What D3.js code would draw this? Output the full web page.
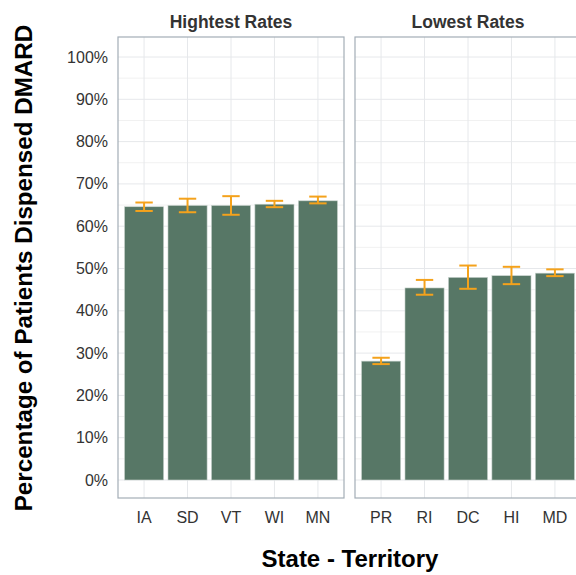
<!DOCTYPE html>
<html>
<head>
<meta charset="utf-8">
<script src="https://cdn.jsdelivr.net/npm/d3@7"></script>
<style>
  body { margin: 0; background: #fff; }
  text { font-family: "Liberation Sans", Arial, sans-serif; }
</style>
</head>
<body>
<svg id="svg" width="576" height="575"></svg>
<script>
const panels = ['Hightest Rates', 'Lowest Rates']
const highStates = ['IA', 'SD', 'VT', 'WI', 'MN']
const highRates = [64.6, 64.9, 64.9, 65.2, 66.0]
const highLow = [63.6, 63.3, 62.7, 64.5, 65.4]
const highHigh = [65.6, 66.5, 67.1, 66.0, 67.0]
const lowStates = ['PR', 'RI', 'DC', 'HI', 'MD']
const lowRates = [28.1, 45.4, 47.9, 48.3, 48.9]
const lowLow = [27.4, 43.8, 45.2, 46.3, 48.2]
const lowHigh = [28.9, 47.3, 50.7, 50.4, 49.8]
const yTicks = [0, 10, 20, 30, 40, 50, 60, 70, 80, 90, 100]

const makeRows = (states, rates, lo, hi) =>
  states.map((state, i) => ({ state, rate: rates[i], lo: lo[i], hi: hi[i] }))

const panelData = [
  makeRows(highStates, highRates, highLow, highHigh),
  makeRows(lowStates, lowRates, lowLow, lowHigh)
]

const panelTop = 37
const panelBottom = 498
const panelW = 226
const panelX = [118, 355]

const svg = d3.select('#svg')

const yScale = d3.scaleLinear()
  .domain([0, 100])
  .range([480, 57])

panelData.forEach((rows, p) => {
  const x0 = panelX[p]
  const unit = panelW / 5.2
  const xScale = d3.scaleLinear()
    .domain([0.4, 5.6])
    .range([x0, x0 + panelW])
  const xPos = (d, i) => xScale(i + 1)

  const g = svg.append('g')

  // minor grid
  g.selectAll('.minor')
    .data(d3.range(5, 100, 10))
    .join('line')
    .attr('x1', x0).attr('x2', x0 + panelW)
    .attr('y1', d => yScale(d)).attr('y2', d => yScale(d))
    .attr('stroke', '#f1f1f1')
  // major grid
  g.selectAll('.major')
    .data(yTicks)
    .join('line')
    .attr('x1', x0).attr('x2', x0 + panelW)
    .attr('y1', d => yScale(d)).attr('y2', d => yScale(d))
    .attr('stroke', '#e6e8eb')
  g.selectAll('.vgrid')
    .data(rows)
    .join('line')
    .attr('x1', xPos).attr('x2', xPos)
    .attr('y1', panelTop).attr('y2', panelBottom)
    .attr('stroke', '#e6e8eb')

  g.selectAll('.bar')
    .data(rows)
    .join('rect')
    .attr('x', (d, i) => xPos(d, i) - unit * 0.45)
    .attr('width', unit * 0.9)
    .attr('y', d => yScale(d.rate))
    .attr('height', d => yScale(0) - yScale(d.rate))
    .attr('fill', '#577766')
    .attr('stroke', '#c9d3ce')
    .attr('stroke-width', 0.6)

  const err = g.selectAll('.err')
    .data(rows)
    .join('g')
    .attr('stroke', '#f4a21c')
    .attr('stroke-width', 2)
  err.append('line')
    .attr('x1', xPos).attr('x2', xPos)
    .attr('y1', d => yScale(d.lo)).attr('y2', d => yScale(d.hi))
  err.append('line')
    .attr('x1', (d, i) => xPos(d, i) - unit * 0.2).attr('x2', (d, i) => xPos(d, i) + unit * 0.2)
    .attr('y1', d => yScale(d.lo)).attr('y2', d => yScale(d.lo))
  err.append('line')
    .attr('x1', (d, i) => xPos(d, i) - unit * 0.2).attr('x2', (d, i) => xPos(d, i) + unit * 0.2)
    .attr('y1', d => yScale(d.hi)).attr('y2', d => yScale(d.hi))

  g.append('rect')
    .attr('x', x0).attr('y', panelTop)
    .attr('width', panelW).attr('height', panelBottom - panelTop)
    .attr('fill', 'none')
    .attr('stroke', '#a3adb6')
    .attr('stroke-width', 1.2)

  g.selectAll('.xlab')
    .data(rows)
    .join('text')
    .attr('x', xPos)
    .attr('y', 523)
    .attr('text-anchor', 'middle')
    .attr('font-size', 16)
    .attr('fill', '#333')
    .text(d => d.state)

  g.append('text')
    .attr('x', x0 + panelW / 2)
    .attr('y', 28)
    .attr('text-anchor', 'middle')
    .attr('font-size', 17.5)
    .attr('font-weight', 'bold')
    .attr('fill', '#333')
    .text(panels[p])
})

svg.append('g')
  .selectAll('text')
  .data(yTicks)
  .join('text')
  .attr('x', 108)
  .attr('y', d => yScale(d) + 5.5)
  .attr('text-anchor', 'end')
  .attr('font-size', 16)
  .attr('fill', '#333')
  .text(d => d + '%')

svg.append('text')
  .attr('x', 350)
  .attr('y', 567)
  .attr('text-anchor', 'middle')
  .attr('font-size', 24)
  .attr('font-weight', 'bold')
  .attr('fill', '#000')
  .text('State - Territory')

svg.append('text')
  .attr('transform', 'translate(32, 268) rotate(-90)')
  .attr('text-anchor', 'middle')
  .attr('font-size', 24.2)
  .attr('font-weight', 'bold')
  .attr('fill', '#000')
  .text('Percentage of Patients Dispensed DMARD')
</script>
</body>
</html>
